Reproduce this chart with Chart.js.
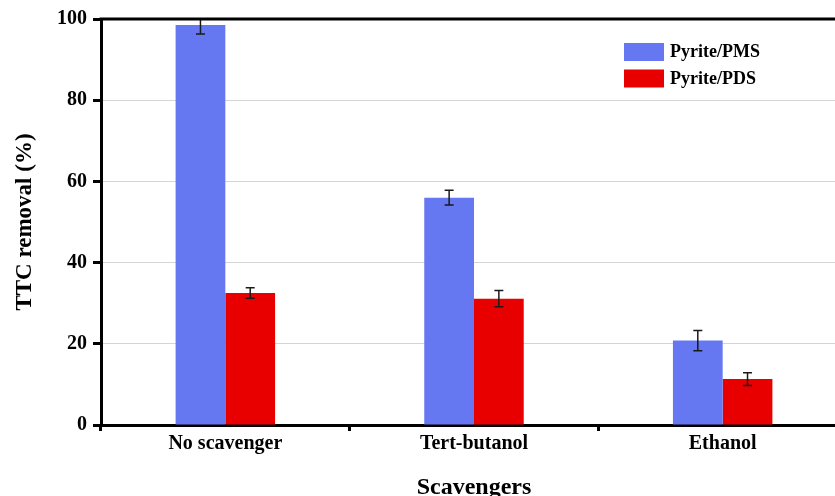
<!DOCTYPE html>
<html>
<head>
<meta charset="utf-8">
<script src="https://cdn.jsdelivr.net/npm/chart.js@4.4.1/dist/chart.umd.min.js"></script>
<style>
  html, body { margin: 0; padding: 0; background: #fff; overflow: hidden; }
  #wrap { width: 860px; height: 502px; }
</style>
</head>
<body>
<div id="wrap"><canvas id="c" width="860" height="502"></canvas></div>
<script>
// Scavenger experiment: TTC removal (%) per system
const categories = ['No scavenger', 'Tert-butanol', 'Ethanol'];
const pmsValues = [98.5, 56.0, 20.8];
const pmsErrors = [2.2, 1.8, 2.5];
const pdsValues = [32.5, 31.1, 11.3];
const pdsErrors = [1.3, 2.0, 1.6];
const yTicks = [0, 20, 40, 60, 80, 100];

const SERIF = "'Liberation Serif', 'Times New Roman', serif";

// error bars drawn from each dataset's errors array
const errorBarPlugin = {
  id: 'errorBars',
  afterDatasetsDraw(chart) {
    const ctx = chart.ctx;
    const y = chart.scales.y;
    const area = chart.chartArea;
    ctx.save();
    ctx.beginPath();
    ctx.rect(area.left, area.top - 1, area.right - area.left, area.bottom - area.top + 1);
    ctx.clip();
    ctx.strokeStyle = '#1a1a1a';
    ctx.lineWidth = 1.5;
    chart.data.datasets.forEach((ds, di) => {
      const meta = chart.getDatasetMeta(di);
      meta.data.forEach((bar, i) => {
        const v = ds.data[i], e = ds.errors[i];
        const x = bar.x;
        const yTop = y.getPixelForValue(v + e);
        const yBot = y.getPixelForValue(v - e);
        const cap = 4.5;
        ctx.beginPath();
        ctx.moveTo(x, yTop); ctx.lineTo(x, yBot);
        ctx.moveTo(x - cap, yTop); ctx.lineTo(x + cap, yTop);
        ctx.moveTo(x - cap, yBot); ctx.lineTo(x + cap, yBot);
        ctx.stroke();
      });
    });
    ctx.restore();
    // top frame line
    ctx.save();
    ctx.strokeStyle = '#000';
    ctx.lineWidth = 3;
    ctx.beginPath();
    ctx.moveTo(area.left - 1.5, area.top);
    ctx.lineTo(area.right, area.top);
    ctx.stroke();
    ctx.restore();
  }
};

// legend inside the plot, upper right
const boxLegendPlugin = {
  id: 'boxLegend',
  afterDraw(chart) {
    const ctx = chart.ctx;
    ctx.save();
    ctx.font = 'bold 18px ' + SERIF;
    ctx.textBaseline = 'middle';
    ctx.textAlign = 'left';
    chart.data.datasets.forEach((ds, i) => {
      const top = 43 + i * 26.5;
      ctx.fillStyle = ds.backgroundColor;
      ctx.fillRect(624, top, 40, 18);
      ctx.fillStyle = '#000';
      ctx.fillText(ds.label, 670, top + 9.5);
    });
    ctx.restore();
  }
};

new Chart(document.getElementById('c'), {
  type: 'bar',
  data: {
    labels: categories,
    datasets: [
      { label: 'Pyrite/PMS', data: pmsValues, errors: pmsErrors, backgroundColor: '#6677f2' },
      { label: 'Pyrite/PDS', data: pdsValues, errors: pdsErrors, backgroundColor: '#e80000' }
    ]
  },
  options: {
    responsive: false,
    animation: false,
    devicePixelRatio: 1,
    layout: { padding: { top: 19, right: 13, left: 0, bottom: 0 } },
    datasets: { bar: { categoryPercentage: 0.4, barPercentage: 1.0 } },
    plugins: { legend: { display: false }, tooltip: { enabled: false } },
    scales: {
      x: {
        afterFit(s) { s.height = 77; },
        grid: {
          drawOnChartArea: false,
          tickLength: 6,
          tickWidth: 3,
          tickColor: '#000'
        },
        border: { color: '#000', width: 3 },
        ticks: { color: '#000', padding: 1, font: { family: SERIF, size: 20, weight: 'bold' } },
        title: {
          display: true,
          text: 'Scavengers',
          color: '#000',
          padding: 0,
          font: { family: SERIF, size: 24, weight: 'bold' }
        }
      },
      y: {
        min: 0,
        max: 100,
        afterFit(s) { s.width = 101; },
        afterBuildTicks(s) { s.ticks = yTicks.map(v => ({ value: v })); },
        grid: {
          color: (c) => (c.tick && (c.tick.value === 0 || c.tick.value === 100)) ? 'rgba(0,0,0,0)' : '#d4d4d4',
          lineWidth: 1,
          tickLength: 8,
          tickWidth: 3,
          tickColor: '#000'
        },
        border: { color: '#000', width: 3 },
        ticks: { color: '#000', padding: 6, font: { family: SERIF, size: 20, weight: 'bold' } },
        title: {
          display: true,
          text: 'TTC removal (%)',
          color: '#000',
          padding: { top: 11, bottom: 0 },
          font: { family: SERIF, size: 23, weight: 'bold' }
        }
      }
    }
  },
  plugins: [errorBarPlugin, boxLegendPlugin]
});
</script>
</body>
</html>
